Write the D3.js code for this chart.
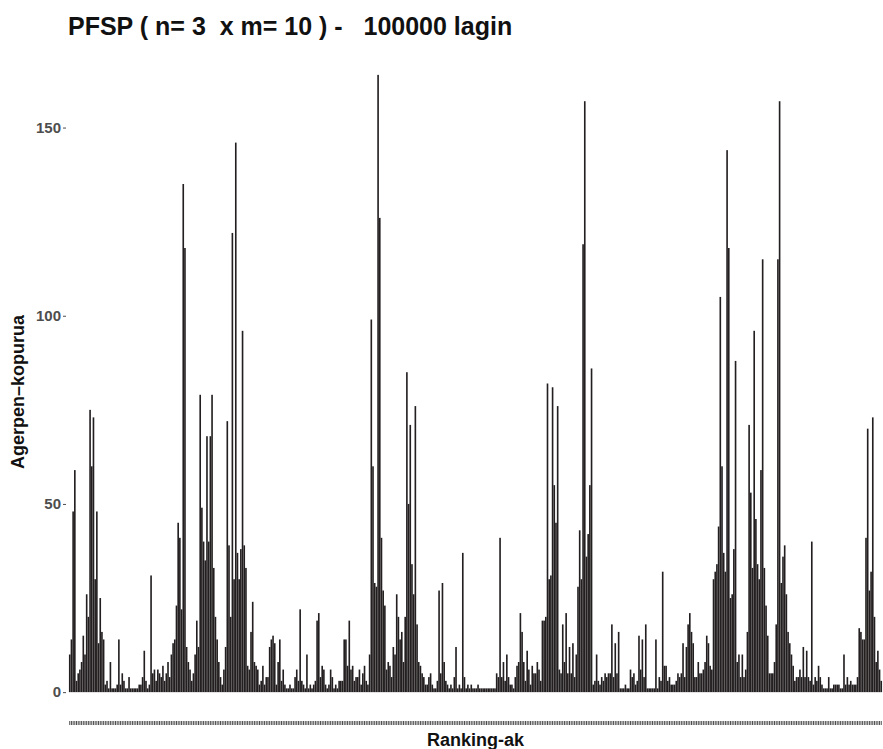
<!DOCTYPE html>
<html>
<head>
<meta charset="utf-8">
<script src="https://cdn.jsdelivr.net/npm/d3@7"></script>
<style>
  body { margin: 0; background: #fff; }
  text { font-family: "Liberation Sans", Arial, sans-serif; }
</style>
</head>
<body>
<div id="chart"></div>
<script>
// agerpen kopurua ranking bakoitzeko (ordenean, 20 balio lerro bakoitzeko)
const counts = [
  10, 14, 48, 59, 3, 5, 6, 8, 15, 10, 26, 20, 75, 60, 73, 30, 48, 13, 25, 16,
  14, 2, 3, 1, 8, 1, 1, 1, 2, 14, 2, 5, 3, 1, 1, 4, 1, 1, 1, 1,
  1, 2, 2, 4, 11, 3, 1, 2, 31, 5, 6, 3, 6, 5, 4, 7, 3, 5, 8, 4,
  10, 13, 14, 23, 45, 41, 22, 135, 118, 12, 8, 6, 3, 5, 10, 19, 12, 79, 49, 40,
  35, 68, 40, 68, 79, 33, 20, 14, 8, 4, 2, 6, 12, 72, 39, 20, 122, 30, 146, 37,
  30, 38, 96, 39, 33, 7, 6, 16, 24, 8, 7, 6, 2, 3, 7, 2, 4, 4, 12, 14,
  15, 13, 2, 8, 14, 3, 6, 2, 1, 1, 2, 1, 1, 4, 6, 3, 22, 3, 2, 1,
  10, 1, 2, 1, 2, 3, 19, 21, 4, 7, 6, 2, 1, 2, 6, 4, 1, 2, 1, 3,
  3, 3, 14, 14, 7, 19, 6, 7, 3, 4, 4, 6, 2, 5, 7, 3, 2, 10, 99, 60,
  29, 28, 164, 126, 41, 27, 23, 6, 8, 7, 4, 12, 10, 26, 20, 14, 16, 8, 20, 85,
  50, 71, 34, 26, 76, 18, 8, 7, 5, 4, 2, 2, 4, 5, 2, 1, 1, 3, 27, 5,
  29, 8, 3, 2, 1, 2, 1, 4, 12, 1, 2, 1, 37, 4, 1, 2, 1, 2, 1, 1,
  1, 2, 1, 1, 1, 1, 1, 1, 1, 1, 1, 1, 5, 4, 41, 4, 8, 3, 10, 4,
  2, 2, 1, 4, 7, 8, 21, 16, 8, 3, 11, 6, 2, 7, 5, 5, 8, 6, 3, 19,
  19, 20, 82, 30, 31, 81, 55, 45, 76, 6, 5, 18, 8, 21, 5, 12, 5, 13, 4, 10,
  28, 43, 30, 119, 157, 36, 42, 55, 86, 2, 3, 10, 3, 2, 4, 3, 5, 4, 5, 5,
  18, 4, 13, 5, 16, 1, 1, 1, 2, 1, 1, 6, 4, 5, 2, 3, 15, 6, 14, 4,
  18, 1, 1, 1, 1, 1, 14, 1, 4, 3, 32, 7, 7, 3, 4, 2, 2, 2, 3, 5,
  4, 5, 13, 4, 12, 18, 21, 16, 13, 4, 4, 8, 5, 5, 6, 8, 15, 13, 7, 6,
  30, 32, 34, 44, 105, 60, 37, 32, 144, 118, 25, 26, 38, 88, 8, 10, 4, 10, 4, 6,
  16, 71, 53, 33, 96, 46, 34, 30, 59, 115, 33, 23, 15, 5, 5, 5, 8, 18, 115, 157,
  29, 36, 39, 26, 16, 13, 10, 7, 3, 4, 4, 6, 4, 12, 4, 11, 4, 3, 40, 2,
  4, 3, 7, 4, 2, 1, 1, 1, 4, 1, 1, 2, 2, 2, 2, 1, 1, 10, 2, 4,
  2, 3, 2, 2, 2, 4, 17, 16, 14, 14, 41, 70, 27, 32, 73, 20, 8, 11, 6, 3
];
const rankings = counts.map((d, i) => "R" + (i + 1));
const yTicks = [0, 50, 100, 150];

const title = "PFSP ( n= 3  x m= 10 ) -   100000 lagin";
const yTitle = "Agerpen\u2013kopurua";
const xTitle = "Ranking-ak";

const W = 883, H = 749;
const mLeft = 68, mRight = 883, mTop = 44, mBottom = 723;

const svg = d3.select("#chart").append("svg")
  .attr("width", W)
  .attr("height", H);

const x = d3.scaleBand()
  .domain(rankings)
  .range([mLeft, mRight])
  .paddingInner(0.04)
  .paddingOuter(0.55);

const y = d3.scaleLinear()
  .domain([-8.2, 172.2])
  .range([mBottom, mTop]);

// barrak
svg.append("g").selectAll("rect")
  .data(counts)
  .enter().append("rect")
  .attr("x", (d, i) => x(rankings[i]))
  .attr("width", x.bandwidth())
  .attr("y", d => y(d))
  .attr("height", d => y(0) - y(d))
  .attr("fill", "#231f20");

// y ardatza
const yAxis = svg.append("g")
  .attr("transform", `translate(${mLeft - 2},0)`)
  .call(d3.axisLeft(y).tickValues(yTicks).tickSize(3).tickPadding(2));
yAxis.select(".domain").remove();
yAxis.selectAll(".tick line").attr("stroke", "#4d4d4d");
yAxis.selectAll(".tick text")
  .attr("fill", "#4d4d4d")
  .style("font-size", "15px")
  .style("font-weight", "bold");

// x ardatza (ranking bakoitzeko marka txikiak)
const xAxis = svg.append("g")
  .attr("transform", `translate(0,${mBottom - 2})`)
  .call(d3.axisBottom(x).tickSize(4).tickFormat(""));
xAxis.select(".domain").remove();
xAxis.selectAll(".tick line").attr("stroke", "#4d4d4d").attr("stroke-width", 1);

// testuak
svg.append("text")
  .attr("x", mLeft)
  .attr("y", 35)
  .style("font-size", "25px")
  .style("font-weight", "bold")
  .attr("fill", "#111")
  .attr("xml:space", "preserve")
  .text(title);

svg.append("text")
  .attr("transform", `translate(24,392) rotate(-90)`)
  .attr("text-anchor", "middle")
  .style("font-size", "18px")
  .style("font-weight", "bold")
  .attr("fill", "#111")
  .text(yTitle);

svg.append("text")
  .attr("x", (mLeft + mRight) / 2)
  .attr("y", 746)
  .attr("text-anchor", "middle")
  .style("font-size", "18px")
  .style("font-weight", "bold")
  .attr("fill", "#111")
  .text(xTitle);
</script>
</body>
</html>
